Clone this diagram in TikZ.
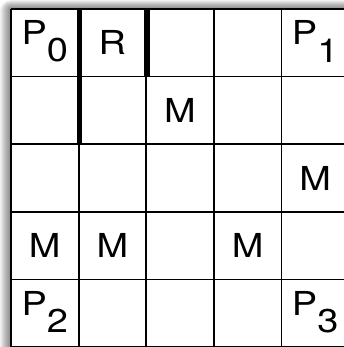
\documentclass[tikz,border=0pt]{standalone}
\usepackage{fontspec}
\setmainfont{TeX Gyre Heros}
\newfontfamily\etiq[FakeStretch=1.15]{TeX Gyre Heros}
\usetikzlibrary{positioning}
\tikzset{
  grille/.style={line width=1.8pt, color=black},
  mur/.style={line width=5.6pt, color=black},
  marque/.style={font=\etiq\fontsize{33pt}{33pt}\selectfont, inner sep=0pt, anchor=center},
  ombre/.style={fill=black, opacity=0.05}
}
\newcommand{\indice}[2]{#1\raisebox{-0.52em}{#2}}

\begin{document}
\begin{tikzpicture}[x=1pt, y=-1pt]
  \useasboundingbox (0,0) rectangle (344,347);
  \clip (0,0) rectangle (344,347);
  % ombre portee en haut et a gauche
  \foreach \i in {1,...,11}
    \fill[ombre, rounded corners=\i pt] (11-\i,9-0.8*\i) rectangle (370,370);
  \fill[white] (11,9) rectangle (370,370);

  % grille 5x5
  \foreach \k in {0,...,5} {
    \draw[grille] (11+67.6*\k,9) -- (11+67.6*\k,370);
    \draw[grille] (11,9+67.6*\k) -- (370,9+67.6*\k);
  }

  % murs
  \draw[mur] (79.4,8.1) -- (79.4,145);
  \draw[mur] (147,8.1) -- (147,77.4);

  % contenu des cases
  \node[marque] (p0) at (44.8,41.5) {\indice{P}{0}};
  \node[marque] (r)  at (112.4,42.8) {R};
  \node[marque] (p1) at (315.2,41.5) {\indice{P}{1}};
  \node[marque] (m1) at (180,110.4) {M};
  \node[marque] (m2) at (315.2,178) {M};
  \node[marque] (m3) at (44.8,245.6) {M};
  \node[marque] (m4) at (112.4,245.6) {M};
  \node[marque] (m5) at (247.6,245.6) {M};
  \node[marque] (p2) at (44.8,311.9) {\indice{P}{2}};
  \node[marque] (p3) at (315.2,311.9) {\indice{P}{3}};
\end{tikzpicture}
\end{document}
